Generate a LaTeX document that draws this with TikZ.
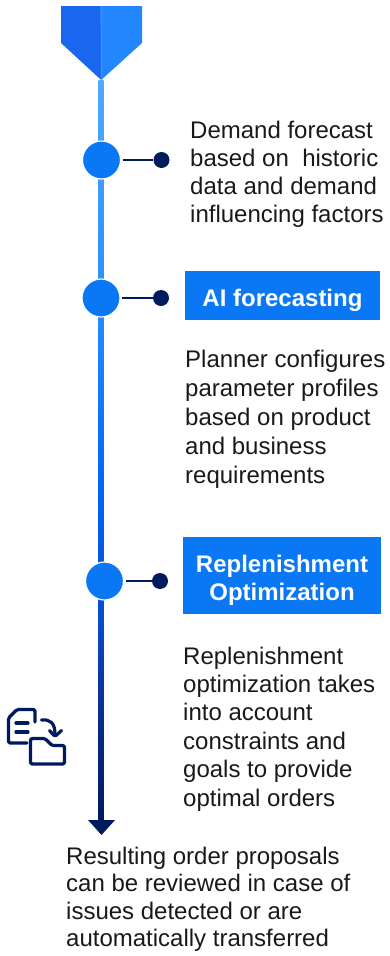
\documentclass[tikz,border=0pt]{standalone}
\usepackage{fontspec}
\setmainfont{Liberation Sans}
\definecolor{navy}{HTML}{001A5E}
\definecolor{midblue}{HTML}{0A78F5}
\definecolor{topblue}{HTML}{4FAAFF}
\definecolor{bannerleft}{HTML}{1A66EE}
\definecolor{bannerright}{HTML}{2388FF}
\definecolor{lineA}{HTML}{0A2D8A}
\definecolor{lineB}{HTML}{0A4BCC}
\definecolor{lineC}{HTML}{0062F5}
\definecolor{lineD}{HTML}{2A8CFF}
\pgfdeclareverticalshading{lineshade}{100bp}{color(0bp)=(navy); color(25bp)=(navy); color(31.8bp)=(lineA); color(38.5bp)=(lineB); color(46.6bp)=(lineC); color(60bp)=(lineD); color(75bp)=(topblue); color(100bp)=(topblue)}
\newcommand{\lift}{\rule{0pt}{27pt}}
\tikzset{
    bigdot/.style={circle,fill=midblue,draw=white,line width=1.2pt,minimum size=38pt,inner sep=0pt},
    smalldot/.style={circle,fill=navy,minimum size=16pt,inner sep=0pt},
    stepbox/.style={fill=midblue,text=white,font=\fontsize{24}{28}\selectfont\bfseries,align=center,inner sep=0pt},
    note/.style={anchor=north west,align=left,inner sep=0pt,text=black!90,font=\fontsize{24}{#1}\selectfont},
    icon/.style={draw=navy,line width=3.2pt,line join=round,line cap=round,rounded corners=1.5pt}
}
\begin{document}
\begin{tikzpicture}[x=1pt,y=-1pt]
    \useasboundingbox (0,0) rectangle (390,956);
    % the banner on top
    \coordinate (tip) at (101.2,80);
    \coordinate (end) at (101.2,820);
    \shade[shading=lineshade] ([xshift=-2.5pt]tip) rectangle ([xshift=2.5pt]end);
    \fill[bannerleft] (61,6) -- (101,6) -- (tip) -- (61,43) -- cycle;
    \fill[bannerright] (101,6) -- (142,6) -- (142,43) -- (tip) -- cycle;
    \draw[topblue,line width=.6pt] (tip) -- (101,6);
    \fill[navy] (88,820) -- (115,820) -- (101.5,835) -- cycle;
    % circles and the lines going out of them
    \foreach \n/\x/\y/\d in {1/101.5/160/161.5,2/101/298/161,3/104.5/581/160}{
        \node[bigdot] at (\x,\y) (c\n) {};
        \node[smalldot] at (\d,\y) (d\n) {};
        \draw[navy,line width=2.2pt] ([xshift=1.5pt]c\n.east)--(d\n);
    }
    % the two boxes
    \node[stepbox,minimum width=195pt,minimum height=49pt] at (282.5,295.5) (ai) {\lift AI forecasting};
    \node[stepbox,minimum width=198pt,minimum height=77pt] at (282,575.5) (opt) {\lift Replenishment\\Optimization};
    % the texts
    \node[note=28.3] at (190,120.5) (t1) {Demand forecast\\based on \ historic\\data and demand\\influencing factors};
    \node[note=29] at (185,349.5) (t2) {Planner configures\\parameter profiles\\based on product\\and business\\requirements};
    \node[note=28.4] at (183,646.5) (t3) {Replenishment\\optimization takes\\into account\\constraints and\\goals to provide\\optimal orders};
    \node[note=27.5] at (66,846.5) (t4) {Resulting order proposals\\can be reviewed in case of\\issues detected or are\\automatically transferred};
    % document, folder and arrow
    \draw[icon] (35,722) -- (35,709.5) -- (17,709.5) -- (8.5,718) -- (8.5,743) -- (27,743);
    \draw[icon] (16,723) -- (28,723) (16,732) -- (28,732);
    \draw[icon] (30.5,764) -- (30.5,738.5) -- (45,738.5) -- (52,745.5) -- (64.5,745.5) -- (64.5,764) -- cycle;
    \draw[icon] (41.5,720) .. controls (50,719) and (55,723) .. (55,734);
    \draw[icon] (49.5,730.5) -- (55,736.5) -- (61.5,730.5);
\end{tikzpicture}
\end{document}
